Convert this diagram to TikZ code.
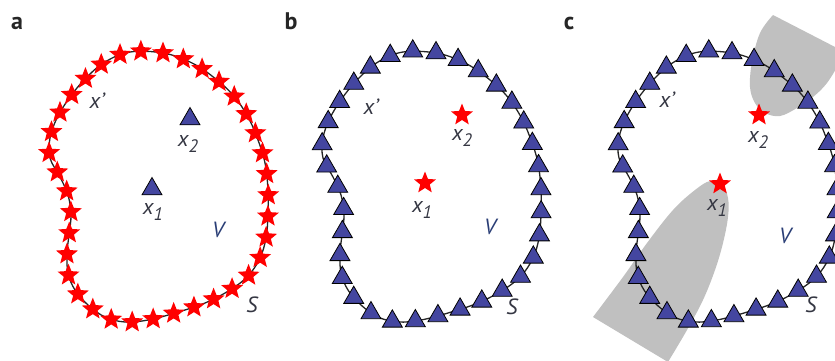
\documentclass[tikz,border=0pt]{standalone}
\usepackage{fontspec}
\setmainfont{PT Sans}
\usetikzlibrary{shapes.geometric,decorations.markings}
\definecolor{tri}{RGB}{68,70,160}
\definecolor{lab}{RGB}{52,54,66}
\definecolor{vlab}{RGB}{42,62,118}
\definecolor{greyfill}{RGB}{192,192,192}
\tikzset{
  redstar/.style={star, star points=5, star point ratio=2.3, fill=red, draw=none, minimum size=23pt, inner sep=0pt},
  bluetri/.style={regular polygon, regular polygon sides=3, fill=tri, draw=black, line width=0.8pt, minimum size=23pt, inner sep=0pt},
  lbl/.style={font=\fontsize{22}{22}\selectfont\itshape, text=lab, inner sep=0pt},
  vlbl/.style={lbl, text=vlab},
  panel/.style={font=\fontsize{24}{24}\selectfont\bfseries, text=black!85, inner sep=0pt},
  boundary/.style={line width=1.3pt, draw=black!85},
  region/.style={fill=greyfill, draw=none},
}
\newcommand\drawsurf[3]{%
  \draw[boundary, shift={(#1,0)}, postaction={decorate},
        decoration={markings, mark=between positions 0 and 0.995 step #3 with {\node[#2]{};}}]
  plot[smooth cycle, tension=0.6] coordinates {(130,52) (163,53) (190,62) (212,76) (233,95) (248,117) (258,140) (265,163) (268,190) (268,215) (266,238) (260,258) (248,276) (230,290) (205,303) (175,313) (148,320) (125,322) (105,317) (88,305) (75,290) (68,273) (67,253) (69,235) (71,215) (68,195) (60,177) (50,158) (50,138) (57,118) (70,97) (86,78) (105,62)};
}
\newcommand\xsub[1]{x\raisebox{-0.3em}{\fontsize{18}{18}\selectfont #1}}
\begin{document}
\begin{tikzpicture}[x=1pt,y=-1pt]
\useasboundingbox (0,0) rectangle (835,360);
\clip (0,0) rectangle (835,360);

% panel labels
\node[panel] (pa) at (17,23) {a};
\node[panel] (pb) at (291,21) {b};
\node[panel] (pc) at (569,23) {c};

% ---------- panel a ----------
\drawsurf{0}{redstar}{0.027}
\node[bluetri] (a-x2) at (190,119) {};
\node[bluetri] (a-x1) at (152,189) {};
\node[lbl] (a-xp) at (97,101) {x’};
\node[lbl] (a-x2l) at (188,144) {\xsub{2}};
\node[lbl] (a-x1l) at (153,212) {\xsub{1}};
\node[vlbl] (a-V) at (218,230) {V};
\node[lbl] (a-S) at (252,305) {S};

% ---------- panel b ----------
\drawsurf{273}{bluetri}{0.0294}
\node[redstar] (b-x2) at (462,115) {};
\node[redstar] (b-x1) at (425,183) {};
\node[lbl] (b-xp) at (371,107) {x’};
\node[lbl] (b-x2l) at (462,138) {\xsub{2}};
\node[lbl] (b-x1l) at (422,210) {\xsub{1}};
\node[vlbl] (b-V) at (490,227) {V};
\node[lbl] (b-S) at (512,307) {S};

% ---------- panel c ----------
\fill[region] plot[smooth, tension=0.6] coordinates {(593,317) (623,277) (647,243) (673,210) (695,190) (710,181) (722,184) (728,198) (728,217) (723,243) (715,270) (703,300) (687,330) (668,362)} -- cycle;
\fill[region] plot[smooth, tension=0.6] coordinates {(773,15) (760,33) (752,62) (750,87) (755,103) (765,113) (780,116) (797,108) (813,97) (827,83) (840,62)} -- (870,65) -- cycle;
\drawsurf{569}{bluetri}{0.0294}
\node[redstar] (c-x2) at (759,115) {};
\node[redstar] (c-x1) at (720,184) {};
\node[lbl] (c-xp) at (667,100) {x’};
\node[lbl] (c-x2l) at (758,140) {\xsub{2}};
\node[lbl] (c-x1l) at (717,208) {\xsub{1}};
\node[vlbl] (c-V) at (785,236) {V};
\node[lbl] (c-S) at (811,305) {S};
\end{tikzpicture}
\end{document}
